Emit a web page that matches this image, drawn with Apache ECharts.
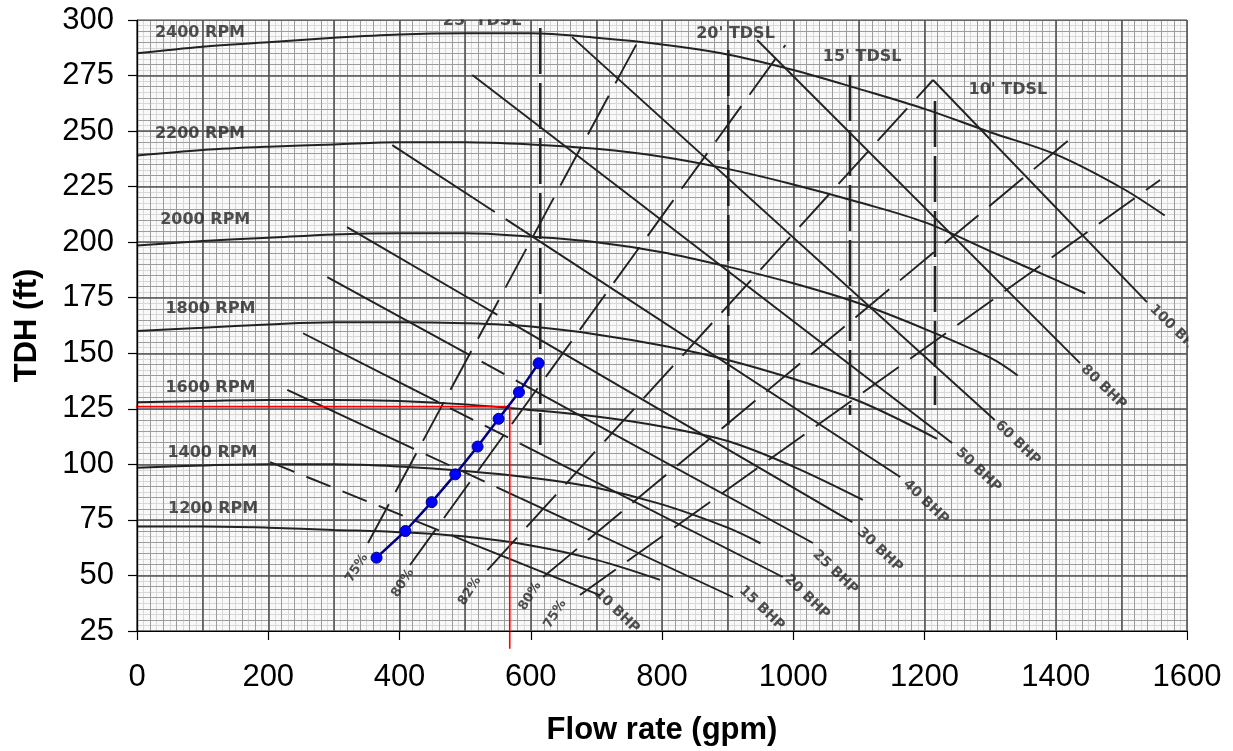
<!DOCTYPE html>
<html><head><meta charset="utf-8">
<script src="https://cdn.jsdelivr.net/npm/echarts@6/dist/echarts.min.js"></script>
<style>html,body{margin:0;padding:0;background:#fff}#c{width:1233px;height:751px}</style>
</head><body><div id="c"></div>
<script>
// ---- pump speed curves (flow gpm, head ft) ----
const rpm2400 = [[0,285],[100,288],[200,290],[300,292],[400,293.5],[500,294],[600,294],[700,292],[800,289],[900,284.5],[1000,277.5],[1100,269],[1200,260],[1300,249.5],[1400,239.5],[1500,224.5],[1566,212]];
const rpm2200 = [[0,239],[100,241.5],[200,243],[300,244],[400,245],[500,245],[600,244],[700,242],[800,238.5],[900,233],[1000,226],[1100,218],[1200,209],[1300,196],[1400,183],[1445,177]];
const rpm2000 = [[0,198.5],[100,200.5],[200,202],[300,203.5],[400,204],[500,204],[600,202.5],[700,200],[800,195.5],[900,189],[1000,181.5],[1100,172.5],[1200,161],[1300,148],[1342,140]];
const rpm1800 = [[0,160],[100,161.5],[200,163],[300,164],[400,164],[500,163.5],[600,162],[700,158.5],[800,153.5],[900,147],[1000,138.5],[1100,128.5],[1219,111.5]];
const rpm1600 = [[0,128],[100,128.5],[200,129],[300,129],[400,128.5],[500,127],[600,124.5],[700,121.5],[800,117],[900,110.5],[1000,99],[1106,84]];
const rpm1400 = [[0,98.5],[100,99.5],[200,100],[300,100],[400,99],[500,97],[600,94],[700,89.5],[800,82],[900,71.5],[950,64.5]];
const rpm1200 = [[0,72],[100,72],[200,71.5],[300,70.5],[400,69.5],[500,67.5],[600,63.5],[700,57],[797,48]];
const rpmNames = ['2400 RPM','2200 RPM','2000 RPM','1800 RPM','1600 RPM','1400 RPM','1200 RPM'];
const rpmLabelAt = [[96,294],[96,248.7],[104,210],[112,170],[112,134.5],[115,105],[116,80.2]];

// ---- brake horsepower lines: solid part(s) and dashed part ----
const bhp10  = {solid:[[[508,64.6],[706,41]]], dashed:[[203,101],[508,64.6]]};
const bhp15  = {solid:[[[229,133.5],[386,111.9]],[[584,84.8],[908,40.3]]], dashed:[[386,111.9],[584,84.8]]};
const bhp20  = {solid:[[[253,159],[424,133.3]],[[584,109.3],[984,49.3]]], dashed:[[424,133.3],[584,109.3]]};
const bhp25  = {solid:[[[290,184.3],[473,154.7]],[[584,136.7],[1030,64.6]]], dashed:[[473,154.7],[584,136.7]]};
const bhp30  = {solid:[[[320,206.8],[515,173.2]],[[599,158.7],[1090,74]]], dashed:[[515,173.2],[599,158.7]]};
const bhp40  = {solid:[[[389,243.7],[512,220]],[[584,206.1],[1163,94.3]]], dashed:[[512,220],[584,206.1]]};
const bhp50  = {solid:[[[511,275.2],[1242,109.6]]], dashed:null};
const bhp60  = {solid:[[[663,292.3],[1307,120]]], dashed:null};
const bhp80  = {solid:[[[945,291],[1437,145.6]]], dashed:null};
const bhp100 = {solid:[[[1213,273],[1539,173]]], dashed:null};
const bhpNames = ['10 BHP','15 BHP','20 BHP','25 BHP','30 BHP','40 BHP','50 BHP','60 BHP','80 BHP','100 BHP'];
const bhpLabelAt = [[731,34],[952,35.3],[1021,40.3],[1064,51.5],[1132,61.5],[1202,83.1],[1282,97.5],[1342,109.6],[1473,134.8],[1583,160.3]];

// ---- efficiency lines ----
const eff75a = [[352,64.6],[770,294]];
const eff80a = [[416,54.7],[988,288.7]];
const eff82  = [[534,52.4],[1213,273]];
const eff80b = [[619,49.3],[1429,248.2]];
const eff75b = [[675,41.2],[1559,228]];
const effNames = ['75%','80%','82%','80%','75%'];
const effLabelAt = [[335,53.3],[405,46.6],[507,43],[599,40.7],[637,32.6]];

// ---- total dynamic suction lift lines ----
const tdslFlow = [614.5, 901, 1086.5, 1216];
const tdslTop = [296.4, 286.5, 275.2, 263.5];
const tdslBottom = [108.7, 117.7, 122.2, 126.7];
const tdslNames = ["25' TDSL","20' TDSL","15' TDSL","10' TDSL"];
const tdslLabelAt = [[526,299.5],[912,293.9],[1105,283.6],[1327,268.5]];

// ---- overlay: system curve points and operating point ----
const sysFlow = [365, 409, 449, 485, 519, 551, 582, 612];
const sysHead = [58, 70, 83, 95.5, 108, 120.5, 132.5, 145.5];
const opFlow = 568, opHead = 126;
const opLineStartFlow = -30, opLineEndHead = 17;

const INK = '#222222';
const series = [];
[rpm2400,rpm2200,rpm2000,rpm1800,rpm1600,rpm1400,rpm1200].forEach(d => series.push({
  type:'line', data:d, smooth:0.35, showSymbol:false, silent:true, z:3,
  lineStyle:{color:INK, width:2}
}));
[bhp10,bhp15,bhp20,bhp25,bhp30,bhp40,bhp50,bhp60,bhp80,bhp100].forEach(b => {
  b.solid.forEach(d => series.push({type:'line', data:d, showSymbol:false, silent:true, z:3,
    lineStyle:{color:INK, width:1.9}}));
  if (b.dashed) series.push({type:'line', data:b.dashed, showSymbol:false, silent:true, z:3,
    lineStyle:{color:INK, width:1.9, type:[26,13]}});
});
[eff75a,eff80a,eff82,eff80b,eff75b].forEach(d => series.push({
  type:'line', data:d, showSymbol:false, silent:true, z:3,
  lineStyle:{color:INK, width:1.9, type:[44,14]}
}));
tdslFlow.forEach((f,i) => series.push({
  type:'line', data:[[f,tdslTop[i]],[f,tdslBottom[i]]], showSymbol:false, silent:true, z:3,
  lineStyle:{color:INK, width:2.6, type:[46,9]}
}));
function labelSeries(names, at, rot, size){
  return {type:'scatter', symbolSize:1, itemStyle:{color:'rgba(0,0,0,0)'}, silent:true, z:4,
    data: names.map((n,i)=>({name:n, value:at[i]})),
    label:{show:true, position:'inside', formatter:'{b}', rotate:rot, fontSize:size,
      fontWeight:'bold', color:'#262626', fontFamily:'DejaVu Sans'}};
}
series.push(labelSeries(rpmNames, rpmLabelAt, 0, 16));
series.push(labelSeries(tdslNames, tdslLabelAt, 0, 16));
series.push(labelSeries(bhpNames, bhpLabelAt, -44, 14));
series.push(labelSeries(effNames, effLabelAt, 58, 13));
series.push({type:'line', clip:false, showSymbol:false, silent:true, z:5,
  data:[[opLineStartFlow,opHead],[opFlow,opHead],[opFlow,opLineEndHead]],
  lineStyle:{color:'#ff0000', width:1.6}});
series.push({type:'line', z:6, silent:true,
  data: sysFlow.map((f,i)=>[f,sysHead[i]]),
  symbol:'circle', symbolSize:11, showSymbol:true,
  itemStyle:{color:'#0000ff', borderColor:'#000080', borderWidth:1},
  lineStyle:{color:'#000080', width:2.5}});

function gridAxis(interval, color, width, z, extra){
  return Object.assign({type:'value', interval:interval, z:z,
    axisLine:{show:false}, axisTick:{show:false}, axisLabel:{show:false},
    splitLine:{show:true, lineStyle:{color:color, width:width}}}, extra||{});
}
const plain = v => String(v);
const chart = echarts.init(document.getElementById('c'), null, {renderer:'canvas'});
chart.setOption({
  animation:false,
  grid:{left:137, right:46, top:20, bottom:120, show:true, backgroundColor:'#f9f9f9', borderWidth:0},
  xAxis:[
    {type:'value', min:0, max:1600, interval:200, position:'bottom', z:10,
      axisLine:{show:true, lineStyle:{color:'#000', width:1.2}},
      axisTick:{show:true, length:9, lineStyle:{color:'#000', width:1.2}},
      axisLabel:{fontSize:31, color:'#000', fontFamily:'Liberation Sans', margin:31, formatter:plain},
      splitLine:{show:false},
      name:'Flow rate (gpm)', nameLocation:'middle', nameGap:84,
      nameTextStyle:{fontSize:31, fontWeight:'bold', color:'#000', fontFamily:'Liberation Sans'}},
    gridAxis(10, '#d8d8d8', 1, 0, {min:0, max:1600, position:'top',
      axisLine:{show:true, lineStyle:{color:'#000', width:1.2}}}),
    gridAxis(20, '#9c9c9c', 1, 1, {min:0, max:1600}),
    gridAxis(100, '#555555', 1.6, 2, {min:0, max:1600})
  ],
  yAxis:[
    {type:'value', min:25, max:300, interval:25, position:'left', z:10,
      axisLine:{show:true, lineStyle:{color:'#000', width:1.2}},
      axisTick:{show:true, length:9, lineStyle:{color:'#000', width:1.2}},
      axisLabel:{fontSize:31, color:'#000', fontFamily:'Liberation Sans', margin:23, formatter:plain},
      splitLine:{show:false},
      name:'TDH (ft)', nameLocation:'middle', nameGap:94, nameRotate:90,
      nameTextStyle:{fontSize:31, fontWeight:'bold', color:'#000', fontFamily:'Liberation Sans'}},
    gridAxis(2.5, '#d8d8d8', 1, 0, {min:25, max:300, position:'right',
      axisLine:{show:true, lineStyle:{color:'#000', width:1.2}}}),
    gridAxis(5, '#9c9c9c', 1, 1, {min:25, max:300}),
    gridAxis(25, '#555555', 1.6, 2, {min:25, max:300})
  ],
  graphic:[
    {type:'rect', z:100, silent:true, shape:{x:136, y:0, width:1060, height:19.2}, style:{fill:'#fff'}},
    {type:'rect', z:100, silent:true, shape:{x:1188.4, y:0, width:60, height:640}, style:{fill:'#fff'}}
  ],
  series: series
});
</script></body></html>
